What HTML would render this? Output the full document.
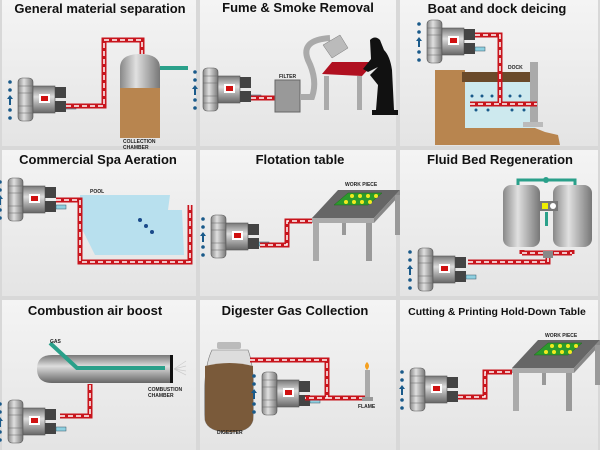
<!DOCTYPE html>
<html><head><meta charset="utf-8"><style>
html,body{margin:0;padding:0;background:#d8d8d8;}
svg{display:block}
text{font-family:"Liberation Sans",sans-serif;}
.t{font-weight:bold;font-size:13px;fill:#111;text-anchor:middle}
.s{font-weight:bold;font-size:5px;fill:#222}
.rp{fill:none;stroke:#c8141c;stroke-width:5}
.wd{fill:none;stroke:#fff;stroke-width:1.5;stroke-dasharray:5 3}
</style></head><body>
<svg width="600" height="450" viewBox="0 0 600 450" xmlns="http://www.w3.org/2000/svg">
<defs>
<linearGradient id="pg" x1="0" y1="0" x2="0" y2="1"><stop offset="0" stop-color="#f4f4f4"/><stop offset="1" stop-color="#e4e4e4"/></linearGradient>
<linearGradient id="mt" x1="0" y1="0" x2="0" y2="1"><stop offset="0" stop-color="#777"/><stop offset=".4" stop-color="#ddd"/><stop offset="1" stop-color="#666"/></linearGradient>
<linearGradient id="tk" x1="0" y1="0" x2="1" y2="0"><stop offset="0" stop-color="#888"/><stop offset=".4" stop-color="#e0e0e0"/><stop offset="1" stop-color="#777"/></linearGradient>
<g id="bl">
<circle cx="-8" cy="4" r="1.8" fill="#1a5a8a"/><circle cx="-8" cy="12" r="1.8" fill="#1a5a8a"/><path d="M-8 17 l-3 4h2v6h2v-6h2z" fill="#1a5a8a"/><circle cx="-8" cy="32" r="1.8" fill="#1a5a8a"/><circle cx="-8" cy="40" r="1.8" fill="#1a5a8a"/>
<rect x="0" y="0" width="15" height="43" rx="4" fill="url(#tk)" stroke="#555" stroke-width=".6"/>
<path d="M0 8h15M0 15h15M0 28h15M0 35h15" stroke="#666" stroke-width=".6"/>
<rect x="15" y="8" width="22" height="27" fill="url(#mt)" stroke="#555" stroke-width=".6"/>
<rect x="37" y="9" width="11" height="11" fill="#444"/><rect x="37" y="23" width="11" height="11" fill="#444"/>
<rect x="21" y="16" width="11" height="9" fill="#fff"/><rect x="23" y="18" width="7" height="5" fill="#d01010"/>
<rect x="48" y="27" width="10" height="4" fill="#8fd0e0" stroke="#356" stroke-width=".5"/>
</g>
<g id="tb">
<polygon points="0,28 26,0 88,0 62,28" fill="#666"/>
<polygon points="0,28 62,28 62,33 0,33" fill="#aaa"/>
<polygon points="62,28 88,0 88,5 62,33" fill="#888"/>
<rect x="1" y="33" width="6" height="38" fill="#aaa"/><rect x="54" y="33" width="6" height="38" fill="#999"/>
<rect x="83" y="5" width="5" height="40" fill="#999"/><rect x="30" y="33" width="4" height="12" fill="#999"/>
<polygon points="22,15 36,3 70,3 56,15" fill="#2c9a2c" stroke="#1a6a1a" stroke-width=".5"/>
<g fill="#f2ea20"><circle cx="34" cy="12" r="2"/><circle cx="42" cy="12" r="2"/><circle cx="50" cy="12" r="2"/><circle cx="40" cy="6" r="2"/><circle cx="48" cy="6" r="2"/><circle cx="56" cy="6" r="2"/><circle cx="58" cy="12" r="2"/><circle cx="64" cy="6" r="2"/></g>
</g>
</defs>
<rect width="600" height="450" fill="#d8d8d8"/>
<rect x="2" y="0" width="194" height="146" fill="url(#pg)"/>
<rect x="200" y="0" width="196" height="146" fill="url(#pg)"/>
<rect x="400" y="0" width="198" height="146" fill="url(#pg)"/>
<rect x="2" y="150" width="194" height="146" fill="url(#pg)"/>
<rect x="200" y="150" width="196" height="146" fill="url(#pg)"/>
<rect x="400" y="150" width="198" height="146" fill="url(#pg)"/>
<rect x="2" y="300" width="194" height="150" fill="url(#pg)"/>
<rect x="200" y="300" width="196" height="150" fill="url(#pg)"/>
<rect x="400" y="300" width="198" height="150" fill="url(#pg)"/>

<text class="t" x="100" y="13">General material separation</text>
<text class="t" x="298" y="12">Fume &amp; Smoke Removal</text>
<text class="t" x="497" y="13">Boat and dock deicing</text>
<text class="t" x="98" y="164">Commercial Spa Aeration</text>
<text class="t" x="300" y="164">Flotation table</text>
<text class="t" x="500" y="164">Fluid Bed Regeneration</text>
<text class="t" x="95" y="315">Combustion air boost</text>
<text class="t" x="295" y="315">Digester Gas Collection</text>
<text class="t" x="497" y="315" style="font-size:10.5px">Cutting &amp; Printing Hold-Down Table</text>

<!-- P1 -->
<use href="#bl" x="18" y="78"/>
<path class="rp" d="M66 106H104V40H142V54"/><path class="wd" d="M66 106H104V40H142V54"/>
<path d="M120 68 q0-14 20-14 q20 0 20 14V138H120Z" fill="url(#tk)"/>
<rect x="120" y="88" width="40" height="50" fill="#b8854f"/>
<rect x="160" y="66" width="28" height="4" fill="#2aa08a"/>
<text class="s" x="123" y="143">COLLECTION</text><text class="s" x="123" y="149">CHAMBER</text>

<!-- P2 -->
<use href="#bl" x="203" y="68"/>
<path class="rp" d="M251 98H275"/><path class="wd" d="M251 98H275"/>
<rect x="275" y="80" width="25" height="32" fill="#999" stroke="#666"/>
<text class="s" x="279" y="78">FILTER</text>
<path d="M300 97H312Q318 80 308 60Q300 40 330 38" fill="none" stroke="#aaa" stroke-width="6"/>
<polygon points="323,45 340,35 348,48 332,58" fill="#bbb" stroke="#777" stroke-width=".5"/>
<polygon points="322,74 332,62 375,62 362,76" fill="#b01020"/>
<rect x="324" y="76" width="5" height="34" fill="#aaa"/><rect x="357" y="76" width="5" height="34" fill="#aaa"/>
<path d="M370 40q5-5 10 0l4 10q6 6 8 20l2 40h4v5h-26v-5h4l2-25-8-10 8-8-10 5-5-3 8-10z" fill="#111"/>

<!-- P3 -->
<polygon points="435,70 465,70 465,120 480,128 535,128 545,132 558,135 560,145 435,145" fill="#b8854f"/>
<rect x="465" y="82" width="70" height="46" fill="#cde9ee"/>
<rect x="462" y="72" width="70" height="10" fill="#6a4a2a"/>
<text class="s" x="508" y="69">DOCK</text>
<rect x="530" y="62" width="8" height="62" fill="#aaa"/><rect x="523" y="122" width="20" height="5" fill="#bbb"/>
<use href="#bl" x="427" y="20"/>
<path class="rp" d="M475 35H500V104M470 104H537"/><path class="wd" d="M475 35H500V104M470 104H537"/>
<g fill="#1a5a8a"><circle cx="472" cy="96" r="1.5"/><circle cx="482" cy="96" r="1.5"/><circle cx="492" cy="96" r="1.5"/><circle cx="510" cy="96" r="1.5"/><circle cx="520" cy="96" r="1.5"/><circle cx="476" cy="110" r="1.5"/><circle cx="488" cy="110" r="1.5"/><circle cx="512" cy="110" r="1.5"/><circle cx="524" cy="110" r="1.5"/></g>

<!-- P4 -->
<use href="#bl" x="8" y="178"/>
<polygon points="80,195 170,195 168,210 182,210 184,255 95,255 80,225" fill="#b8e0ee"/>
<text class="s" x="90" y="193">POOL</text>
<path class="rp" d="M56 200H80V262H190V205"/><path class="wd" d="M56 200H80V262H190V205"/>
<g fill="#1a4a8a"><circle cx="140" cy="220" r="2"/><circle cx="146" cy="226" r="2"/><circle cx="152" cy="232" r="2"/></g>

<!-- P5 -->
<use href="#bl" x="211" y="215"/>
<path class="rp" d="M260 245H287V221H312"/><path class="wd" d="M260 245H287V221H312"/>
<use href="#tb" x="312" y="190"/>
<text class="s" x="345" y="186">WORK PIECE</text>

<!-- P6 -->
<path d="M518 185V180H575V185" fill="none" stroke="#2aa08a" stroke-width="3"/><circle cx="546" cy="180" r="3" fill="#2aa08a"/>
<rect x="503" y="185" width="37" height="62" rx="8" fill="url(#tk)"/>
<rect x="553" y="185" width="39" height="62" rx="8" fill="url(#tk)"/>
<rect x="540" y="201" width="18" height="10" fill="#777"/><rect x="542" y="203" width="6" height="6" fill="#ee0"/><circle cx="553" cy="206" r="3" fill="#fff"/>
<rect x="545" y="212" width="3" height="14" fill="#2aa08a"/>
<use href="#bl" x="418" y="248"/>
<path class="rp" d="M468 262H548V254M522 253H572M522 250V254M572 250V254"/><path class="wd" d="M468 262H548V254M522 253H572"/>
<rect x="543" y="251" width="10" height="7" fill="#888"/>

<!-- P7 -->
<path d="M52 355H172V383H52Q37 383 37 369Q37 355 52 355Z" fill="url(#mt)"/>
<rect x="170" y="355" width="3" height="28" fill="#111"/>
<path d="M50 343L77 368H165" fill="none" stroke="#2aa08a" stroke-width="4"/>
<path d="M174 369l12-8M174 369l12-3M174 369l12 2M174 369l12 6" stroke="#ccc" stroke-width=".7"/>
<text class="s" x="50" y="343">GAS</text>
<text class="s" x="148" y="391">COMBUSTION</text><text class="s" x="148" y="397">CHAMBER</text>
<use href="#bl" x="8" y="400"/>
<path class="rp" d="M60 416H90V384"/><path class="wd" d="M60 416H90V384"/>

<!-- P8 -->
<rect x="217" y="342" width="24" height="7" rx="2" fill="#bbb"/>
<path d="M212 350H248Q256 370 253 420Q250 432 230 432Q208 432 205 420Q202 370 212 350Z" fill="#ddd" stroke="#777" stroke-width=".6"/>
<path d="M205 366Q230 360 253 366L253 420Q250 432 230 432Q208 432 205 420Z" fill="#7a5a3a"/>
<text class="s" x="217" y="434">DIGESTER</text>
<use href="#bl" x="262" y="372"/>
<path class="rp" d="M250 360H327V398H305M327 398H367"/><path class="wd" d="M250 360H327V398H305M327 398H367"/>
<rect x="365" y="370" width="5" height="28" fill="#aaa"/><rect x="362" y="397" width="11" height="4" fill="#999"/>
<path d="M367 362q-4 4 0 8q4-4 0-8z" fill="#f5a020"/>
<text class="s" x="358" y="408">FLAME</text>

<!-- P9 -->
<use href="#bl" x="410" y="368"/>
<path class="rp" d="M458 397H485V372H512"/><path class="wd" d="M458 397H485V372H512"/>
<use href="#tb" x="512" y="340"/>
<text class="s" x="545" y="337">WORK PIECE</text>
</svg>
</body></html>
